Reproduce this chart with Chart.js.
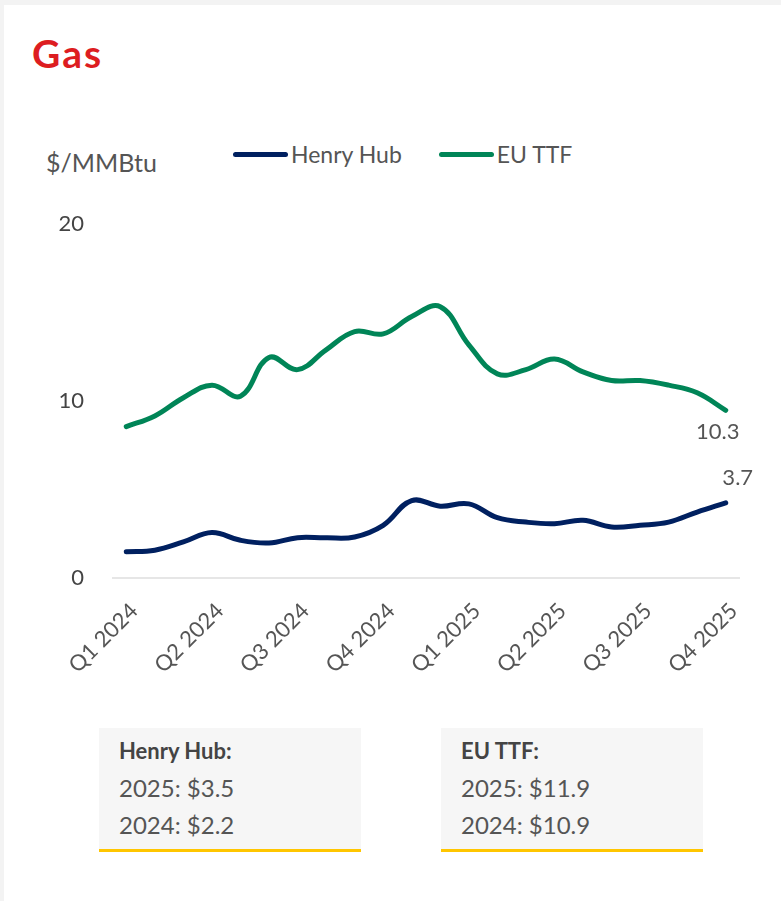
<!DOCTYPE html>
<html>
<head>
<meta charset="utf-8">
<script src="https://cdn.jsdelivr.net/npm/chart.js@4.4.1/dist/chart.umd.min.js"></script>
<style>
  html, body { margin: 0; padding: 0; }
  body { width: 781px; height: 901px; background: #f3f3f3; font-family: "Lato", "Open Sans", sans-serif; overflow: hidden; }
  .card { position: absolute; left: 4px; top: 5px; right: 0; bottom: 0; background: #fff; }
  .title { position: absolute; left: 32px; top: 30px; font-size: 39px; font-weight: 700; color: #dd1d21; letter-spacing: 2px; }
  .unit { position: absolute; left: 46px; top: 147px; font-size: 25px; color: #555; }
  .legend { position: absolute; left: 233px; top: 140px; display: flex; font-size: 23px; color: #555; }
  .legend .item { display: flex; align-items: center; margin-right: 37px; }
  .legend .swatch { width: 55px; height: 5px; border-radius: 3px; margin-right: 3px; }
  .chart-wrap { position: absolute; left: 0; top: 183px; width: 781px; height: 507px; }
  .box { position: absolute; top: 728px; width: 262px; height: 121px; background: #f6f6f6; border-bottom: 3px solid #ffc600;
         box-sizing: content-box; padding: 0; color: #555; font-size: 24px; }
  .box div { position: absolute; left: 20px; }
  .box .head { font-weight: 700; color: #444; font-size: 22px; }
</style>
</head>
<body>
<div class="card"></div>
<div class="title">Gas</div>
<div class="unit">$/MMBtu</div>
<div class="legend" id="legend"></div>
<div class="chart-wrap"><canvas id="gas-chart"></canvas></div>
<div id="boxes"></div>

<script>
// monthly points, Jan 2024 .. Oct 2025
const months = [
  "Jan 2024", "Feb 2024", "Mar 2024", "Apr 2024", "May 2024", "Jun 2024",
  "Jul 2024", "Aug 2024", "Sep 2024", "Oct 2024", "Nov 2024", "Dec 2024",
  "Jan 2025", "Feb 2025", "Mar 2025", "Apr 2025", "May 2025", "Jun 2025",
  "Jul 2025", "Aug 2025", "Sep 2025", "Oct 2025"
];
// shown every third month
const tickLabels = [
  "Q1 2024", "Q2 2024", "Q3 2024", "Q4 2024",
  "Q1 2025", "Q2 2025", "Q3 2025", "Q4 2025"
];
const henryHub = [
  1.48, 1.57, 2.04, 2.57, 2.13, 1.98, 2.28, 2.27, 2.32, 2.98, 4.38,
  4.06, 4.19, 3.41, 3.16, 3.07, 3.26, 2.88, 2.98, 3.16, 3.73, 4.25
];
const euTtf = [
  8.56, 9.16, 10.19, 10.9, 10.28, 12.47, 11.78, 12.9, 13.93, 13.8, 14.78,
  15.34, 13.18, 11.54, 11.78, 12.38, 11.65, 11.16, 11.16, 10.9, 10.47, 9.48
];
const seriesNames = ["Henry Hub", "EU TTF"];
const seriesColors = ["#002060", "#008557"];
const endLabels = ["3.7", "10.3"];
const yTicks = [0, 10, 20];

// summary boxes under the chart
const summaryTitles = ["Henry Hub:", "EU TTF:"];
const summary2025 = ["$3.5", "$11.9"];
const summary2024 = ["$2.2", "$10.9"];

// legend
const legendEl = document.getElementById("legend");
seriesNames.forEach((name, i) => {
  const item = document.createElement("div");
  item.className = "item";
  item.innerHTML = `<span class="swatch" style="background:${seriesColors[i]}"></span>${name}`;
  legendEl.appendChild(item);
});

// boxes
const boxLeft = [99, 441];
const boxesEl = document.getElementById("boxes");
summaryTitles.forEach((t, i) => {
  const box = document.createElement("div");
  box.className = "box";
  box.style.left = boxLeft[i] + "px";
  box.innerHTML =
    `<div class="head" style="top:9px">${t}</div>` +
    `<div style="top:45px">2025: ${summary2025[i]}</div>` +
    `<div style="top:82px">2024: ${summary2024[i]}</div>`;
  boxesEl.appendChild(box);
});

// value labels at the end of each line
const endLabelPlugin = {
  id: "endLabels",
  afterDatasetsDraw(chart) {
    const ctx = chart.ctx;
    ctx.save();
    ctx.font = "22px Lato, sans-serif";
    ctx.fillStyle = "#555";
    ctx.textAlign = "center";
    ctx.textBaseline = "middle";
    chart.data.datasets.forEach((ds, i) => {
      const meta = chart.getDatasetMeta(i);
      const pt = meta.data[meta.data.length - 1];
      if (i === 0) {
        ctx.fillText(endLabels[i], pt.x + 12, pt.y - 25);
      } else {
        ctx.fillText(endLabels[i], pt.x - 8, pt.y + 22);
      }
    });
    ctx.restore();
  },
};

const ctx = document.getElementById("gas-chart").getContext("2d");
const chart = new Chart(ctx, {
  type: "line",
  data: {
    labels: months,
    datasets: [
      {
        label: seriesNames[0],
        data: henryHub,
        borderColor: seriesColors[0],
        borderWidth: 5,
        tension: 0.4,
        pointRadius: 0,
        borderCapStyle: "round",
        borderJoinStyle: "round",
      },
      {
        label: seriesNames[1],
        data: euTtf,
        borderColor: seriesColors[1],
        borderWidth: 5,
        tension: 0.4,
        pointRadius: 0,
        borderCapStyle: "round",
        borderJoinStyle: "round",
      },
    ],
  },
  options: {
    responsive: true,
    maintainAspectRatio: false,
    animation: false,
    layout: {
      padding: { top: 26, right: 41, left: 0, bottom: 0 },
    },
    plugins: {
      legend: { display: false },
      tooltip: { enabled: false },
    },
    scales: {
      x: {
        offset: true,
        grid: { display: false },
        border: { display: false },
        afterFit: (scale) => { scale.height = 112; },
        ticks: {
          autoSkip: false,
          maxRotation: 45,
          minRotation: 45,
          padding: 12,
          labelOffset: 8,
          color: "#555",
          font: { family: "Lato", size: 22 },
          callback: (value, index) => (index % 3 === 0 ? tickLabels[index / 3] : ""),
        },
      },
      y: {
        min: 0,
        max: 20,
        afterFit: (scale) => { scale.width = 112; },
        afterBuildTicks: (scale) => { scale.ticks = yTicks.map((v) => ({ value: v })); },
        border: { display: false },
        grid: {
          drawTicks: false,
          lineWidth: 2,
          color: (c) => (c.tick && c.tick.value === 0 ? "#e6e6e6" : "rgba(0,0,0,0)"),
        },
        ticks: {
          padding: 28,
          color: "#444",
          font: { family: "Lato", size: 22 },
        },
      },
    },
  },
  plugins: [endLabelPlugin],
});
</script>
</body>
</html>
